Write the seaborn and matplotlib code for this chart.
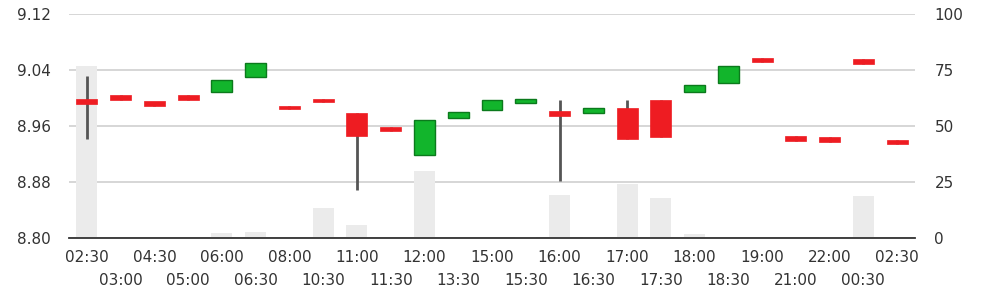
import matplotlib
matplotlib.use("Agg")
import matplotlib.pyplot as plt
import seaborn as sns
import pandas as pd
import numpy as np

labels = ["02:30", "03:00", "04:30", "05:00", "06:00", "06:30", "08:00", "10:30",
          "11:00", "11:30", "12:00", "13:30", "15:00", "15:30", "16:00", "16:30",
          "17:00", "17:30", "18:00", "18:30", "19:00", "21:00", "22:00", "00:30", "02:30"]
opens = [8.999, 9.004, 8.995, 9.004, 9.008, 9.030, 8.989, 8.999, 8.978, 8.958,
         8.919, 8.972, 8.983, 8.993, 8.981, 8.979, 8.986, 8.997, 9.008, 9.021,
         9.057, 8.946, 8.944, 9.055, 8.940]
closes = [8.992, 8.997, 8.989, 8.997, 9.025, 9.050, 8.984, 8.994, 8.946, 8.953,
          8.969, 8.980, 8.997, 8.998, 8.975, 8.985, 8.942, 8.944, 9.019, 9.045,
          9.051, 8.939, 8.937, 9.049, 8.934]
highs = [9.032, 9.004, 8.995, 9.004, 9.025, 9.050, 8.989, 8.999, 8.978, 8.958,
         8.969, 8.980, 8.997, 8.998, 8.997, 8.985, 8.997, 8.997, 9.019, 9.045,
         9.057, 8.946, 8.944, 9.055, 8.940]
lows = [8.942, 8.997, 8.989, 8.997, 9.008, 9.030, 8.984, 8.994, 8.869, 8.953,
        8.919, 8.972, 8.983, 8.993, 8.882, 8.979, 8.942, 8.944, 9.008, 9.021,
        9.051, 8.939, 8.937, 9.049, 8.934]
volumes = [77, 0, 0, 0, 2.2, 2.8, 0, 13.6, 5.6, 0, 30, 0, 0, 0.5, 19.3, 0.5,
           24, 17.7, 1.6, 0, 0, 0, 0.5, 18.6, 0]

price_ticks = [8.80, 8.88, 8.96, 9.04, 9.12]
vol_ticks = [0, 25, 50, 75, 100]

sns.set_theme(style="white")
plt.rcParams['font.family'] = ['DejaVu Sans']

TXT = "#333333"
GREEN = "#12b52c"
GREEN_EDGE = "#0b7a1c"
RED = "#ee1c22"
WICK = "#555555"
VOL = "#ebebeb"

fig = plt.figure(figsize=(9.81, 2.94), dpi=100)
ax = fig.add_subplot(111)
ax2 = ax.twinx()
fig.subplots_adjust(left=69/981, right=915/981, top=1-14/294, bottom=1-238/294)

n = len(labels)
pos = np.arange(n)
df = pd.DataFrame({"idx": pos, "volume": volumes})

# volume bars on secondary axis (with grid there)
sns.barplot(data=df, x="idx", y="volume", ax=ax2, color=VOL, width=0.62,
            saturation=1, edgecolor="none", linewidth=0, zorder=2)
ax2.set_ylim(0, 100)
ax2.set_yticks(vol_ticks)
ax2.set_yticklabels([str(v) for v in vol_ticks], fontsize=11, color=TXT)
ax2.yaxis.grid(True, color="#cccccc", linewidth=1.1, zorder=0)
ax2.set_axisbelow(True)
ax2.set_xlabel("")
ax2.set_ylabel("")
ax2.tick_params(axis="y", length=0, pad=14)

# candles on primary axis, drawn above volume
ax.set_zorder(ax2.get_zorder() + 1)
ax.patch.set_visible(False)
o = np.array(opens); c = np.array(closes)
up = c >= o
bottoms = np.minimum(o, c)
heights = np.abs(c - o)
ax.vlines(pos, lows, highs, color=WICK, linewidth=2, zorder=2)
ax.bar(pos[up], heights[up], bottom=bottoms[up], width=0.62, color=GREEN,
       edgecolor=GREEN_EDGE, linewidth=1, zorder=3)
ax.bar(pos[~up], heights[~up], bottom=bottoms[~up], width=0.62, color=RED,
       edgecolor=RED, linewidth=0.5, zorder=3)

ax.set_ylim(8.80, 9.12)
ax.set_yticks(price_ticks)
ax.set_yticklabels([f"{v:.2f}" for v in price_ticks], fontsize=11, color=TXT)
ax.tick_params(axis="y", length=0, pad=13)
ax.grid(False)

ax.set_xlim(-0.53, n - 0.47)
ax2.set_xlim(-0.53, n - 0.47)
ax.set_xticks(pos[::2])
ax.set_xticklabels([labels[i] for i in pos[::2]], fontsize=11, color=TXT)
ax.set_xticks(pos[1::2], minor=True)
ax.set_xticklabels([labels[i] for i in pos[1::2]], minor=True, fontsize=11, color=TXT)
ax.tick_params(axis="x", which="major", length=0, pad=9)
ax.tick_params(axis="x", which="minor", length=0, pad=25.5)
ax2.tick_params(axis="x", which="both", length=0, labelbottom=False)

for a in (ax, ax2):
    for s in ["top", "left", "right"]:
        a.spines[s].set_visible(False)
ax2.spines["bottom"].set_visible(False)
ax.spines["bottom"].set_color("#333333")
ax.spines["bottom"].set_linewidth(1.3)

fig.savefig("out.png", dpi=100, facecolor="white")
